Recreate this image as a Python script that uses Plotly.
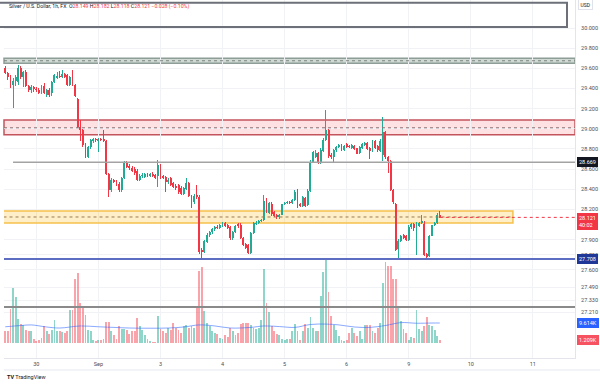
import plotly.graph_objects as go

# ---------------- data (hourly candles, Aug 29 late -> Sep 9) ----------------
opens = [
    29.60, 29.55, 29.51, 29.43, 29.47, 29.46, 29.60, 29.51, 29.56, 29.42, 29.38, 29.41,
    29.39, 29.38, 29.36, 29.42, 29.34, 29.38, 29.36, 29.46, 29.50, 29.52, 29.51, 29.54,
    29.53, 29.43, 29.54, 29.43, 29.30, 29.02, 28.99, 28.84, 28.72, 28.82, 28.88, 28.90,
    28.88, 28.90, 28.90, 28.88, 28.55, 28.39, 28.49, 28.48, 28.45, 28.39, 28.51, 28.66,
    28.63, 28.61, 28.60, 28.58, 28.49, 28.53, 28.52, 28.55, 28.53, 28.55, 28.54, 28.53,
    28.64, 28.53, 28.52, 28.47, 28.51, 28.46, 28.43, 28.44, 28.41, 28.35, 28.40, 28.46,
    28.33, 28.27, 28.34, 28.32, 27.80, 27.78, 27.88, 27.95, 27.98, 28.01, 28.03, 28.02,
    28.04, 28.07, 28.05, 28.03, 27.92, 27.98, 28.06, 28.05, 27.92, 27.86, 27.85, 27.77,
    27.97, 28.06, 28.07, 28.09, 28.10, 28.30, 28.16, 28.25, 28.17, 28.14, 28.12, 28.14,
    28.25, 28.26, 28.27, 28.26, 28.29, 28.35, 28.25, 28.23, 28.31, 28.24, 28.38, 28.67,
    28.72, 28.76, 28.66, 28.78, 28.89, 28.99, 28.74, 28.72, 28.79, 28.82, 28.84, 28.79,
    28.85, 28.83, 28.81, 28.83, 28.81, 28.76, 28.81, 28.84, 28.86, 28.81, 28.78, 28.88,
    28.83, 28.78, 28.74, 28.97, 28.72, 28.68, 28.39, 28.25, 27.81, 27.89, 27.95, 27.94,
    27.90, 28.03, 28.06, 28.01, 28.04, 28.07, 28.06, 27.76, 27.74, 27.94, 28.05, 28.07,
    28.149,
]
highs = [
    29.62, 29.56, 29.53, 29.50, 29.53, 29.63, 29.62, 29.57, 29.58, 29.43, 29.43, 29.42,
    29.41, 29.40, 29.43, 29.45, 29.39, 29.40, 29.47, 29.54, 29.56, 29.57, 29.58, 29.55,
    29.54, 29.52, 29.58, 29.44, 29.31, 29.09, 29.00, 28.86, 28.83, 28.90, 28.91, 28.91,
    28.91, 28.91, 28.99, 28.89, 28.56, 28.51, 28.50, 28.49, 28.47, 28.52, 28.68, 28.68,
    28.65, 28.63, 28.62, 28.60, 28.55, 28.56, 28.56, 28.56, 28.56, 28.57, 28.55, 28.69,
    28.65, 28.54, 28.53, 28.51, 28.52, 28.47, 28.45, 28.45, 28.43, 28.42, 28.51, 28.47,
    28.34, 28.35, 28.44, 28.34, 27.82, 27.90, 27.97, 27.99, 28.02, 28.04, 28.05, 28.06,
    28.08, 28.08, 28.06, 28.04, 27.99, 28.05, 28.07, 28.07, 27.93, 27.87, 27.86, 27.98,
    28.08, 28.09, 28.10, 28.11, 28.34, 28.31, 28.27, 28.27, 28.18, 28.15, 28.15, 28.26,
    28.27, 28.28, 28.28, 28.30, 28.39, 28.40, 28.26, 28.33, 28.32, 28.40, 28.69, 28.78,
    28.79, 28.77, 28.81, 28.91, 29.19, 29.00, 28.76, 28.80, 28.83, 28.85, 28.85, 28.84,
    28.86, 28.84, 28.85, 28.84, 28.82, 28.83, 28.86, 28.87, 28.87, 28.82, 28.89, 28.89,
    28.84, 28.90, 29.12, 28.98, 28.73, 28.69, 28.40, 28.26, 27.91, 27.95, 27.96, 27.95,
    28.05, 28.07, 28.07, 28.08, 28.08, 28.14, 28.09, 27.77, 27.95, 28.06, 28.08, 28.16,
    28.182,
]
lows = [
    29.54, 29.48, 29.40, 29.21, 29.42, 29.43, 29.49, 29.41, 29.41, 29.37, 29.36, 29.37,
    29.37, 29.35, 29.35, 29.35, 29.32, 29.32, 29.33, 29.45, 29.49, 29.50, 29.50, 29.50,
    29.42, 29.42, 29.42, 29.32, 29.01, 28.88, 28.82, 28.71, 28.71, 28.80, 28.86, 28.87,
    28.77, 28.88, 28.87, 28.54, 28.32, 28.37, 28.46, 28.43, 28.37, 28.37, 28.50, 28.61,
    28.59, 28.57, 28.54, 28.48, 28.48, 28.51, 28.51, 28.52, 28.52, 28.52, 28.50, 28.42,
    28.50, 28.50, 28.37, 28.45, 28.43, 28.41, 28.39, 28.35, 28.34, 28.34, 28.39, 28.32,
    28.21, 28.25, 28.30, 27.76, 27.70, 27.77, 27.87, 27.93, 27.96, 27.99, 28.01, 28.01,
    28.03, 28.03, 28.01, 27.90, 27.90, 27.97, 28.02, 27.91, 27.84, 27.81, 27.76, 27.76,
    27.96, 28.05, 28.06, 28.08, 28.09, 28.16, 28.15, 28.13, 28.12, 28.11, 28.11, 28.13,
    28.24, 28.25, 28.25, 28.25, 28.28, 28.21, 28.22, 28.22, 28.22, 28.23, 28.37, 28.66,
    28.71, 28.65, 28.65, 28.77, 28.88, 28.71, 28.70, 28.66, 28.77, 28.81, 28.78, 28.78,
    28.81, 28.81, 28.80, 28.79, 28.69, 28.75, 28.80, 28.83, 28.79, 28.70, 28.77, 28.80,
    28.77, 28.77, 28.68, 28.70, 28.56, 28.38, 28.25, 27.79, 27.72, 27.88, 27.91, 27.89,
    27.89, 28.01, 27.99, 27.75, 28.03, 28.06, 27.74, 27.70, 27.73, 27.93, 28.04, 28.06,
    28.118,
]
closes = [
    29.55, 29.51, 29.44, 29.47, 29.51, 29.60, 29.51, 29.56, 29.42, 29.38, 29.41, 29.39,
    29.38, 29.36, 29.41, 29.36, 29.38, 29.34, 29.46, 29.53, 29.52, 29.51, 29.54, 29.51,
    29.43, 29.51, 29.43, 29.33, 29.02, 28.99, 28.84, 28.72, 28.82, 28.89, 28.90, 28.89,
    28.90, 28.89, 28.88, 28.55, 28.39, 28.49, 28.47, 28.44, 28.39, 28.51, 28.66, 28.62,
    28.61, 28.58, 28.56, 28.49, 28.53, 28.54, 28.55, 28.53, 28.55, 28.53, 28.51, 28.64,
    28.52, 28.51, 28.47, 28.49, 28.44, 28.42, 28.41, 28.37, 28.35, 28.41, 28.46, 28.33,
    28.27, 28.33, 28.32, 27.78, 27.78, 27.89, 27.95, 27.98, 28.01, 28.03, 28.02, 28.05,
    28.07, 28.04, 28.02, 27.92, 27.98, 28.04, 28.04, 27.92, 27.85, 27.82, 27.77, 27.97,
    28.07, 28.07, 28.09, 28.10, 28.28, 28.17, 28.26, 28.15, 28.13, 28.12, 28.14, 28.25,
    28.26, 28.27, 28.26, 28.29, 28.37, 28.23, 28.23, 28.32, 28.23, 28.38, 28.67, 28.77,
    28.76, 28.66, 28.79, 28.89, 28.99, 28.73, 28.72, 28.79, 28.82, 28.84, 28.79, 28.83,
    28.82, 28.82, 28.84, 28.80, 28.75, 28.82, 28.85, 28.86, 28.80, 28.78, 28.88, 28.81,
    28.79, 28.88, 28.97, 28.72, 28.68, 28.39, 28.27, 27.80, 27.89, 27.94, 27.92, 27.90,
    28.03, 28.06, 28.02, 28.07, 28.07, 28.09, 27.75, 27.73, 27.94, 28.05, 28.07, 28.149,
    28.121,
]
# volume in thousands
volumes = [
    5.6, 5.6, 16.3, 26.4, 22.0, 11.5, 9.3, 8.8, 6.1, 6.0, 5.6, 1.9,
    1.1, 1.6, 2.4, 8.3, 6.0, 4.5, 6.4, 11.2, 5.6, 5.6, 5.1, 4.8,
    6.0, 16.0, 16.0, 31.0, 33.6, 19.0, 17.0, 13.6, 6.4, 5.6, 1.6, 0.8,
    1.6, 1.6, 1.9, 10.3, 10.3, 5.6, 4.0, 1.9, 8.0, 6.7, 6.7, 6.4,
    4.5, 5.6, 5.6, 12.0, 8.0, 6.4, 4.0, 1.9, 0.8, 0.3, 0.3, 12.8,
    6.7, 5.6, 4.8, 7.2, 6.4, 9.6, 7.2, 6.4, 4.8, 8.0, 8.8, 7.2,
    8.0, 7.2, 16.8, 34.5, 36.5, 15.2, 9.6, 8.0, 5.6, 4.8, 4.5, 2.4,
    1.9, 4.0, 2.9, 7.2, 5.6, 4.0, 4.8, 9.3, 9.6, 9.6, 9.6, 8.8,
    7.2, 6.7, 7.2, 10.9, 35.6, 19.2, 14.7, 8.0, 5.6, 4.5, 4.0, 1.9,
    1.3, 1.9, 1.9, 5.6, 9.3, 5.6, 1.6, 6.0, 9.3, 7.2, 12.5, 7.2,
    6.0, 6.0, 22.7, 34.0, 40.0, 24.4, 12.8, 8.8, 6.4, 3.2, 1.6, 0.8,
    1.6, 4.8, 7.2, 4.8, 3.2, 5.6, 1.9, 8.8, 8.8, 8.8, 6.0, 4.8,
    7.2, 9.6, 28.8, 39.0, 37.0, 37.0, 31.0, 31.0, 18.0, 10.4, 6.7, 4.8,
    1.6, 2.9, 2.4, 16.0, 6.7, 5.6, 8.0, 12.5, 8.8, 8.0, 6.4, 3.2,
    1.209,
]
# volume moving average, read at sample bars
ma_bars = [0, 6, 10, 16, 21, 29, 36, 42, 48, 56, 63, 69, 75, 81, 87, 95, 100,
           106, 112, 118, 124, 129, 135, 141, 147, 153, 159, 165, 168]
ma_vals = [7.8, 8.4, 8.7, 7.7, 7.2, 8.2, 7.8, 7.5, 7.2, 7.1, 7.2, 7.7, 8.7, 8.2,
           7.2, 7.5, 8.2, 7.9, 7.5, 8.9, 9.1, 8.7, 7.7, 7.5, 8.4, 9.8, 9.5, 9.6, 9.614]

day_start_bars = [12, 36, 60, 84, 108, 132, 156, 180, 204]
day_labels = ["30", "Sep", "3", "4", "5", "6", "9", "10", "11"]

price_ticks = [30.0, 29.8, 29.6, 29.4, 29.2, 29.0, 28.8, 28.6, 28.4, 28.2,
               27.9, 27.75, 27.6, 27.43, 27.30, 27.18]
price_tick_text = ["30.000", "29.800", "29.600", "29.400", "29.200", "29.000",
                   "28.800", "28.600", "28.400", "28.200", "27.900", "27.750",
                   "27.600", "27.490", "27.330", "27.210"]

# drawn levels / zones
zone_gray = (29.65, 29.70)
zone_red = (28.94, 29.087)
zone_yellow = (28.065, 28.185)
line_grey = 28.669
line_blue = 27.708
line_dark = 27.232
last_price = 28.121
ma_last = 9.614
vol_last = 1.209

# ---------------- derived drawing arrays ----------------
n = len(closes)
bars = list(range(n))
UP, DN = "#22ab94", "#f23645"
is_up = [c >= o for o, c in zip(opens, closes)]
colors = [UP if u else DN for u in is_up]
vcolors = ["rgba(34,171,148,0.5)" if u else "rgba(242,54,69,0.45)" for u in is_up]
body_base = [min(o, c) for o, c in zip(opens, closes)]
body_h = [max(abs(c - o), 0.006) for o, c in zip(opens, closes)]
wick_h = [h - l for h, l in zip(highs, lows)]

X_RANGE = [-0.5, 220.3]
Y_RANGE = [26.726, 30.2778]
V_RANGE = [-7.21, 164.9]

fig = go.Figure()
fig.add_bar(x=bars, y=volumes, yaxis="y2", width=0.72, marker_color=vcolors,
            marker_line_width=0, hoverinfo="skip")
fig.add_scatter(x=ma_bars, y=ma_vals, yaxis="y2", mode="lines",
                line=dict(color="rgba(41,98,255,0.55)", width=1, shape="spline"),
                hoverinfo="skip")
fig.add_bar(x=bars, base=lows, y=wick_h, width=0.38, marker_color=colors,
            marker_line_width=0, hoverinfo="skip")
fig.add_bar(x=bars, base=body_base, y=body_h, width=0.74, marker_color=colors,
            marker_line_width=0, hoverinfo="skip")

shapes = []
# header rectangle drawing
shapes.append(dict(type="rect", xref="paper", yref="y", x0=-0.03, x1=0.986,
                   y0=30.01, y1=30.25, line=dict(color="#6e7079", width=2),
                   fillcolor="rgba(0,0,0,0)", layer="above"))
# gray zone
shapes.append(dict(type="rect", xref="paper", yref="y", x0=0, x1=1,
                   y0=zone_gray[0], y1=zone_gray[1],
                   line=dict(color="#8e9e97", width=1.5),
                   fillcolor="rgba(150,170,160,0.45)", layer="between"))
shapes.append(dict(type="line", xref="paper", yref="y", x0=0, x1=1,
                   y0=sum(zone_gray) / 2, y1=sum(zone_gray) / 2,
                   line=dict(color="#7b8580", width=1, dash="dot")))
# red zone
shapes.append(dict(type="rect", xref="paper", yref="y", x0=0, x1=1,
                   y0=zone_red[0], y1=zone_red[1],
                   line=dict(color="#c4545c", width=1.5),
                   fillcolor="rgba(242,54,69,0.15)", layer="between"))
shapes.append(dict(type="line", xref="paper", yref="y", x0=0, x1=1,
                   y0=29.01, y1=29.01,
                   line=dict(color="#8c7072", width=1, dash="dot")))
# yellow zone
shapes.append(dict(type="rect", xref="x", yref="y", x0=-3, x1=196.3,
                   y0=zone_yellow[0], y1=zone_yellow[1],
                   line=dict(color="#f6c14b", width=1.5),
                   fillcolor="rgba(255,190,40,0.25)", layer="between"))
shapes.append(dict(type="line", xref="x", yref="y", x0=-3, x1=196.3,
                   y0=sum(zone_yellow) / 2, y1=sum(zone_yellow) / 2,
                   line=dict(color="#9a7a50", width=1, dash="dot")))
# horizontal lines
shapes.append(dict(type="line", xref="x", yref="y", x0=3, x1=X_RANGE[1],
                   y0=line_grey, y1=line_grey, line=dict(color="#a3a3a3", width=1.5)))
shapes.append(dict(type="line", xref="paper", yref="y", x0=0, x1=1,
                   y0=line_blue, y1=line_blue, line=dict(color="#5d6ec2", width=2)))
shapes.append(dict(type="line", xref="paper", yref="y", x0=0, x1=1,
                   y0=line_dark, y1=line_dark, line=dict(color="#8a8a8a", width=2)))
shapes.append(dict(type="line", xref="x", yref="y", x0=n - 1, x1=X_RANGE[1],
                   y0=last_price, y1=last_price,
                   line=dict(color="#f23645", width=1, dash="dot")))
# time-axis bottom border
shapes.append(dict(type="line", xref="paper", yref="paper", x0=0, x1=1.05,
                   y0=-0.0335, y1=-0.0335, line=dict(color="#e6e8ee", width=1)))

FONT = "Roboto, Liberation Sans, sans-serif"

def tag(text, y, bg, yref="y", fg="white", border=None, yshift=0):
    return dict(text=text, xref="paper", x=1.0, xanchor="left", xshift=2,
                yref=yref, y=y, yanchor="middle", yshift=yshift, showarrow=False,
                font=dict(family=FONT, size=5.5, color=fg), bgcolor=bg,
                bordercolor=border or bg, borderwidth=1, borderpad=1, align="left")

annotations = [
    tag("28.669", line_grey, "#131722"),
    tag("28.121<br>40:02", last_price, "#f23645", yshift=-4),
    tag("27.708", line_blue, "#1f3796"),
    tag("9.614K", ma_last, "#2962ff", yref="y2"),
    tag("1.209K", vol_last, "#f7525f", yref="y2"),
    dict(text="USD", xref="paper", x=1.0, xanchor="left", xshift=3, yref="paper",
         y=0.988, yanchor="middle", showarrow=False,
         font=dict(family=FONT, size=5, color="#131722"), bgcolor="white",
         bordercolor="#dfe2ea", borderwidth=1, borderpad=1.5),
    dict(text=("<span style='color:#131722'>Silver / U.S. Dollar, 1h, FX</span>"
               "  <span style='color:#131722'>O</span><span style='color:#f23645'>28.149</span>"
               " <span style='color:#131722'>H</span><span style='color:#f23645'>28.182</span>"
               " <span style='color:#131722'>L</span><span style='color:#f23645'>28.118</span>"
               " <span style='color:#131722'>C</span><span style='color:#f23645'>28.121</span>"
               " <span style='color:#f23645'>\u22120.028 (\u22120.10%)</span>"),
         xref="paper", x=0.006, xanchor="left", yref="paper", y=0.982,
         yanchor="middle", showarrow=False,
         font=dict(family=FONT, size=5.2, color="#131722")),
    dict(text="<b>TV</b> TradingView", xref="paper", x=0.002, xanchor="left",
         yref="paper", y=-0.053, yanchor="middle", showarrow=False,
         font=dict(family=FONT, size=5.5, color="#131722")),
]

fig.update_layout(
    width=600, height=386,
    margin=dict(l=4, r=25, t=0, b=28),
    paper_bgcolor="white", plot_bgcolor="white",
    showlegend=False, barmode="overlay", bargap=0,
    shapes=shapes, annotations=annotations,
    hovermode=False,
    xaxis=dict(range=X_RANGE, tickmode="array", tickvals=day_start_bars,
               ticktext=day_labels, showgrid=True, gridcolor="#f1f2f5",
               zeroline=False, showline=True, linecolor="#e3e5ea", ticks="",
               tickfont=dict(family=FONT, size=5.5, color="#4a4d57"),
               fixedrange=True),
    yaxis=dict(range=Y_RANGE, side="right", tickmode="array",
               tickvals=price_ticks, ticktext=price_tick_text,
               showgrid=True, gridcolor="#f1f2f5", zeroline=False,
               showline=True, linecolor="#e3e5ea", ticks="",
               ticklabelstandoff=4,
               tickfont=dict(family=FONT, size=5.5, color="#4a4d57"),
               fixedrange=True),
    yaxis2=dict(range=V_RANGE, overlaying="y", visible=False, fixedrange=True),
)

fig.write_html(
    "out.html",
    config={"displayModeBar": False, "staticPlot": True},
    post_script="document.body.style.margin='0';document.body.style.padding='0';",
)
